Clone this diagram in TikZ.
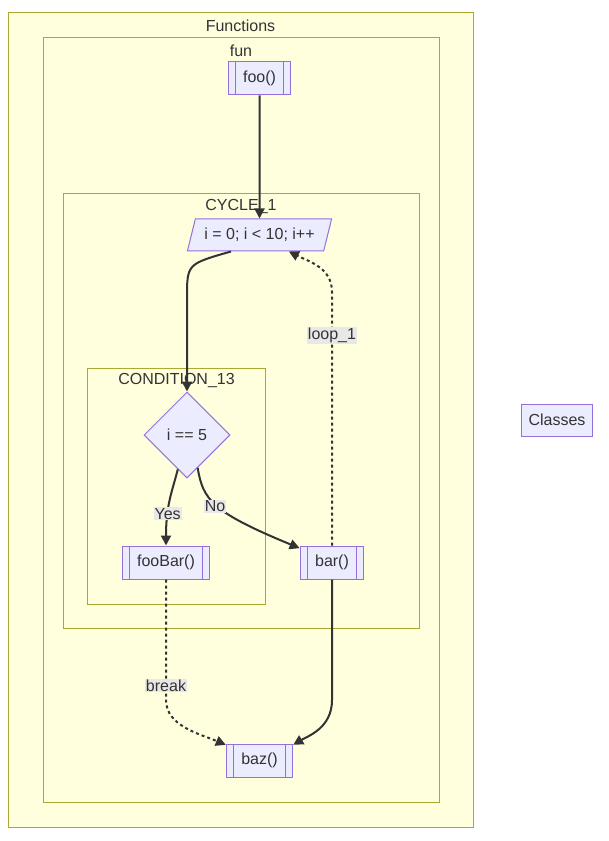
\documentclass[tikz,border=0pt]{standalone}
\usepackage{fontspec}
\setmainfont{Liberation Sans}
\usepackage{tikz}
\usetikzlibrary{arrows.meta,shapes.geometric}
\definecolor{clusterfill}{HTML}{FFFFDE}
\definecolor{clusterline}{HTML}{AAAA33}
\definecolor{nodefill}{HTML}{ECECFF}
\definecolor{nodeline}{HTML}{9370DB}
\definecolor{inkgray}{HTML}{333333}
\definecolor{lblgray}{HTML}{E8E8E8}

\begin{document}
\begin{tikzpicture}[x=0.75pt, y=-0.75pt,
  every node/.style={font=\fontsize{12}{14}\selectfont, text=inkgray},
  cluster/.style={draw=clusterline, fill=clusterfill, line width=0.75pt},
  box/.style={draw=nodeline, fill=nodefill, line width=0.75pt, rectangle, minimum height=24.75pt, inner xsep=11.25pt},
  subr/.style={box, path picture={
      \draw[nodeline, line width=0.75pt] ([xshift=5.25pt]path picture bounding box.north west) -- ([xshift=5.25pt]path picture bounding box.south west);
      \draw[nodeline, line width=0.75pt] ([xshift=-5.25pt]path picture bounding box.north east) -- ([xshift=-5.25pt]path picture bounding box.south east);}},
  flow/.style={draw=inkgray, line width=1.5pt, -{Triangle[length=7.5pt, width=7.5pt]}},
  dotflow/.style={flow, dash pattern=on 2.25pt off 2.25pt},
  lbl/.style={fill=lblgray, inner sep=0.75pt}]
  \fill[white] (0,0) rectangle (608,841);
  \useasboundingbox (0,0) rectangle (608,841);

  % clusters
  \draw[cluster] (8,13) rectangle (473,827);
  \node (functionslbl) at (240.5,26) {Functions};
  \draw[cluster] (43,38) rectangle (439,802);
  \node (funlbl) at (241,51) {fun};
  \draw[cluster] (63,194) rectangle (419,628);
  \node (cyclelbl) at (241,207) {CYCLE\_1};
  \draw[cluster] (87,368) rectangle (265,604);
  \node (condlbl) at (176.5,381) {CONDITION\_13};

  % nodes
  \node[subr] (foo) at (259.5,78.5) {foo()};
  \node[draw=nodeline, fill=nodefill, line width=0.75pt, trapezium, trapezium left angle=63.4, trapezium right angle=116.6,
        trapezium stretches=true, minimum width=108.75pt, minimum height=24pt, inner sep=0pt] (cyc) at (259.5,235) {i = 0; i < 10; i++};
  \node[draw=nodeline, fill=nodefill, line width=0.75pt, diamond, minimum width=64.5pt, minimum height=64.5pt, inner sep=0pt] (cond) at (187,435) {i == 5};
  \node[subr] (foobar) at (166,562.5) {fooBar()};
  \node[subr] (bar) at (332,562.5) {bar()};
  \node[subr] (baz) at (259.5,760.5) {baz()};
  \node[box, minimum height=24pt, inner xsep=5.6pt] (classes) at (557,420) {Classes};

  % edges
  \draw[flow] (foo) -- (cyc);
  \draw[flow] ([xshift=-21.4pt]cyc.south) .. controls (187,264) .. (187,298) -- (cond.north);
  \draw[flow] (cond.255) .. controls (172,492) and (166,505) .. node[lbl, pos=0.68] {Yes} (foobar.north);
  \draw[flow] (cond.288) .. controls (203,500) and (212,512) .. node[lbl, pos=0.5, xshift=-2pt] {No} ([yshift=-2pt]bar.north west);
  \draw[dotflow] (bar.north) -- node[lbl, pos=0.83] {loop\_1} (332,292) .. controls (332,268) and (310,262) .. ([xshift=22pt]cyc.south);
  \draw[dotflow] (foobar.south) -- node[lbl, pos=0.88] {break} (166,700) .. controls (166,726) and (200,734) .. ([yshift=-1pt]baz.north west);
  \draw[flow] (bar.south) -- (332,700) .. controls (332,728) and (308,736) .. ([yshift=-1pt]baz.north east);
\end{tikzpicture}
\end{document}
